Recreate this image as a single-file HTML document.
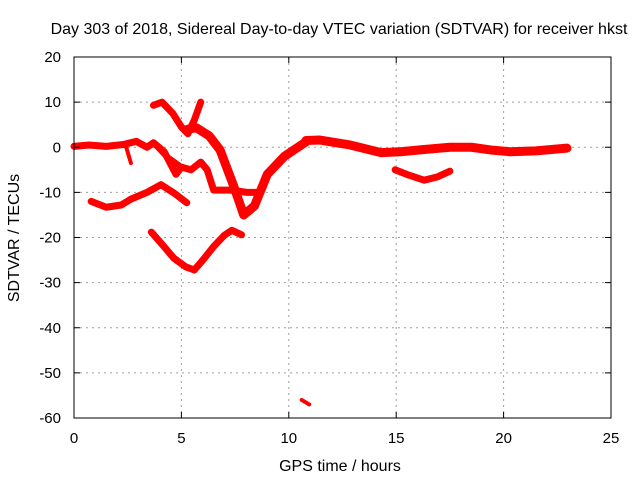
<!DOCTYPE html>
<html><head><meta charset="utf-8"><style>
body{margin:0;background:#fff}
svg text{font-family:"Liberation Sans",sans-serif;fill:#000}
</style></head><body>
<svg width="640" height="480" xmlns="http://www.w3.org/2000/svg">
<rect width="640" height="480" fill="#fff"/>
<text x="339" y="34" font-size="16" text-anchor="middle">Day 303 of 2018, Sidereal Day-to-day VTEC variation (SDTVAR) for receiver hkst</text>
<g id="grid"></g>
<g id="marks"></g>
<rect x="74" y="57" width="537" height="361" fill="none" stroke="#000" stroke-width="1"/>
<g id="ticks"></g>
<text x="340" y="471" font-size="16" text-anchor="middle">GPS time / hours</text>
<text transform="translate(19,238) rotate(-90)" font-size="16" text-anchor="middle">SDTVAR / TECUs</text>
</svg>
<script>
const xTicks=[0,5,10,15,20,25];
const yTicks=[20,10,0,-10,-20,-30,-40,-50,-60];
const arcTop=[[3.7,9.3],[4.1,10],[4.6,7.5],[5.0,4.5],[5.3,3],[5.6,6],[5.9,10]];
const curveB=[[5.3,4],[5.7,4.3],[6.3,2.5],[6.8,-0.6],[7.45,-8.8],[7.9,-15],[8.4,-13],[9.0,-6],[9.8,-2],[10.8,1.2]];
const curveC=[[0,0.2],[0.7,0.5],[1.5,0.2],[2.3,0.6],[2.9,1.3],[3.4,0],[3.7,1],[4.2,-1],[4.75,-6],[5.0,-4.4],[5.45,-5],[5.9,-3.3],[6.2,-5],[6.5,-9.5],[7.3,-9.5],[8.05,-10],[8.5,-10]];
const branchC=[[3.7,1],[4.3,-2],[5.0,-4.4]];
const dropC=[[2.4,0.5],[2.65,-3.5]];
const curveD=[[0.8,-12],[1.5,-13.3],[2.2,-12.8],[2.65,-11.5],[3.4,-10],[4.05,-8.3],[4.7,-10.3],[5.25,-12.3]];
const curveE=[[3.6,-18.8],[4.1,-21.5],[4.65,-24.6],[5.2,-26.5],[5.6,-27.2],[6.0,-25],[6.5,-22],[7.0,-19.5],[7.35,-18.4],[7.8,-19.4]];
const band=[[10.8,1.5],[11.45,1.6],[12.2,1],[12.85,0.5],[13.8,-0.6],[14.3,-1.2],[15.2,-1],[16.3,-0.5],[17.5,0],[18.5,0],[19.4,-0.6],[20.3,-1],[21.5,-0.8],[22.95,-0.2]];
const curveF=[[14.95,-5],[15.6,-6.2],[16.3,-7.3],[16.9,-6.6],[17.5,-5.3]];
const outlier=[[10.6,-56],[10.95,-57]];
const series=[['arc-top',arcTop,7],['curve-b',curveB,9],['curve-c',curveC,7],['branch-c',branchC,6],['drop-c',dropC,4],['curve-d',curveD,7],['curve-e',curveE,7],['band-right',band,9],['curve-f',curveF,7],['outlier',outlier,4]];
const X=h=>74+h*537/25, Y=v=>57+(20-v)*361/80;
const NS='http://www.w3.org/2000/svg';
const grid=document.getElementById('grid'),ticks=document.getElementById('ticks'),marks=document.getElementById('marks');
function mk(tag,attrs,parent){const e=document.createElementNS(NS,tag);for(const k in attrs)e.setAttribute(k,attrs[k]);parent.appendChild(e);return e;}
xTicks.forEach(t=>{const x=X(t);
 if(t>0&&t<25){const l=mk('line',{x1:x,x2:x,y1:57,y2:418,stroke:'#a0a0a0','stroke-dasharray':'2,4'},grid);}
 const tk=mk('path',{d:`M${x},418v-6M${x},57v6`,stroke:'#000'},ticks);
 const tx=mk('text',{x:x,y:443,'font-size':15,'text-anchor':'middle'},ticks);tx.textContent=t;});
yTicks.forEach(t=>{const y=Y(t);
 if(t<20&&t>-60){const l=mk('line',{x1:74,x2:611,y1:y,y2:y,stroke:'#a0a0a0','stroke-dasharray':'2,4'},grid);}
 const tk=mk('path',{d:`M74,${y}h6M611,${y}h-6`,stroke:'#000'},ticks);
 const tx=mk('text',{x:61,y:y+5,'font-size':15,'text-anchor':'end'},ticks);tx.textContent=t;});
series.forEach(([name,pts,w])=>{
 const p=mk('polyline',{points:pts.map(d=>X(d[0])+','+Y(d[1])).join(' '),fill:'none',stroke:'#f00','stroke-width':w,'stroke-linejoin':'round','stroke-linecap':'round'},marks);
 
 
});
</script>
</body></html>
